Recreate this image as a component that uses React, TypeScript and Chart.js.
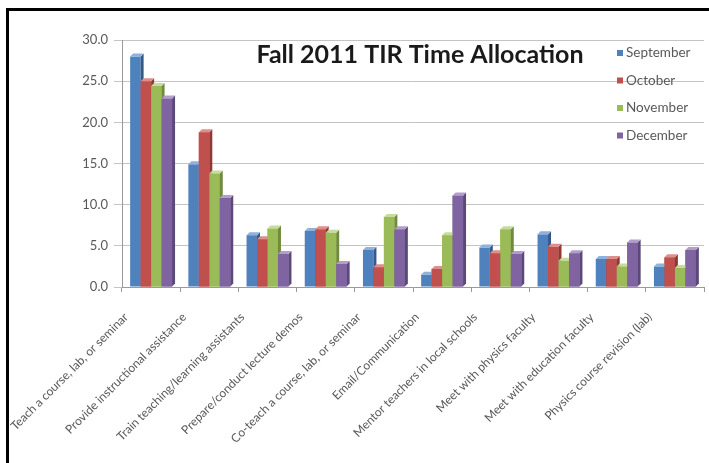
import React, { useEffect, useRef } from "react";
import { Chart, registerables } from "chart.js";

Chart.register(...registerables);

// Activities tracked each month
const categories = [
  "Teach a course, lab, or seminar",
  "Provide instructional assistance",
  "Train teaching/learning assistants",
  "Prepare/conduct lecture demos",
  "Co-teach a course, lab, or seminar",
  "Email/Communication",
  "Mentor teachers in local schools",
  "Meet with physics faculty",
  "Meet with education faculty",
  "Physics course revision (lab)",
];

const months = ["September", "October", "November", "December"];

// Percent of time per activity, by month
const september = [28.0, 14.9, 6.3, 6.8, 4.5, 1.5, 4.8, 6.4, 3.4, 2.5];
const october = [25.0, 18.8, 5.8, 7.0, 2.4, 2.2, 4.1, 4.9, 3.4, 3.6];
const november = [24.4, 13.8, 7.1, 6.6, 8.5, 6.3, 7.0, 3.2, 2.5, 2.3];
const december = [22.9, 10.8, 4.0, 2.8, 7.0, 11.1, 4.0, 4.1, 5.4, 4.5];

const yMin = 0;
const yMax = 30;
const yStep = 5;

const chartTitle = "Fall 2011 TIR Time Allocation";

// front / side / top shades for each series
const frontColors = ["#4F81BD", "#C0504D", "#9BBB59", "#8064A2"];
const sideColors = ["#36598A", "#8E3936", "#718B3E", "#5C4879"];
const topColors = ["#8FB1DC", "#DE8F8C", "#C6DC9E", "#B19ECB"];

const DEPTH = 3;

// Thick black frame along the top and left edges
const frame = {
  id: "frame",
  beforeDraw(chart: any) {
    const ctx = chart.ctx;
    ctx.save();
    ctx.fillStyle = "#000";
    ctx.fillRect(6, 8, chart.width - 6, 3);
    ctx.fillRect(6, 8, 3, chart.height - 8);
    ctx.restore();
  },
};

// Gives each column a shallow right side and top face
const columnDepth = {
  id: "columnDepth",
  afterDatasetsDraw(chart: any) {
    const ctx = chart.ctx;
    const metas = chart.data.datasets.map((_: any, i: number) => chart.getDatasetMeta(i));
    const n = chart.data.labels.length;
    ctx.save();
    for (let i = 0; i < n; i++) {
      for (let d = 0; d < metas.length; d++) {
        const bar: any = metas[d].data[i];
        if (!bar) continue;
        const { x, y, base, width } = bar.getProps(["x", "y", "base", "width"], true);
        const l = x - width / 2;
        const r = x + width / 2;
        ctx.fillStyle = sideColors[d];
        ctx.beginPath();
        ctx.moveTo(r, y);
        ctx.lineTo(r + DEPTH, y - DEPTH);
        ctx.lineTo(r + DEPTH, base - DEPTH);
        ctx.lineTo(r, base);
        ctx.closePath();
        ctx.fill();
        ctx.fillStyle = topColors[d];
        ctx.beginPath();
        ctx.moveTo(l, y);
        ctx.lineTo(l + DEPTH, y - DEPTH);
        ctx.lineTo(r + DEPTH, y - DEPTH);
        ctx.lineTo(r, y);
        ctx.closePath();
        ctx.fill();
        if (d + 1 < metas.length && metas[d + 1].data[i]) {
          metas[d + 1].data[i].draw(ctx, chart.chartArea);
        }
      }
    }
    ctx.restore();
  },
};

// Title and legend sit inside the plot area
const overlay = {
  id: "overlay",
  afterDraw(chart: any) {
    const ctx = chart.ctx;
    const area = chart.chartArea;
    ctx.save();
    ctx.font = "bold 25px Lato";
    ctx.fillStyle = "#1a1a1a";
    ctx.textAlign = "center";
    ctx.textBaseline = "alphabetic";
    ctx.fillText(chartTitle, area.left + 298, 63);

    ctx.font = "13.5px Lato";
    ctx.textAlign = "left";
    ctx.textBaseline = "middle";
    const lx = area.right - 87;
    months.forEach((m, i) => {
      const cy = 53 + i * 27.5;
      ctx.fillStyle = frontColors[i];
      ctx.fillRect(lx, cy - 3, 6, 6);
      ctx.fillStyle = "#595959";
      ctx.fillText(m, lx + 9, cy);
    });
    ctx.restore();
  },
};

export default function App() {
  const canvasRef = useRef<HTMLCanvasElement | null>(null);

  useEffect(() => {
    if (!canvasRef.current) return;
    Chart.defaults.font.family = "Lato";
    const series = [september, october, november, december];
    const chart = new Chart(canvasRef.current, {
      type: "bar",
      data: {
        labels: categories,
        datasets: series.map((values, i) => ({
          label: months[i],
          data: values,
          backgroundColor: frontColors[i],
          borderWidth: 0,
          categoryPercentage: 0.72,
          barPercentage: 1.0,
        })),
      },
      options: {
        animation: false,
        responsive: false,
        layout: { padding: { top: 40, right: 5, left: 0, bottom: 0 } },
        plugins: {
          legend: { display: false },
          title: { display: false },
          tooltip: { enabled: false },
        },
        scales: {
          x: {
            grid: {
              offset: true,
              drawOnChartArea: false,
              drawTicks: true,
              tickLength: 5,
              color: "#9a9a9a",
            },
            border: { color: "#9a9a9a" },
            ticks: {
              autoSkip: false,
              minRotation: 45,
              maxRotation: 45,
              padding: 18,
              labelOffset: -25,
              color: "#595959",
              font: { size: 12, family: "Lato" },
            },
            afterFit: (s: any) => {
              s.height = 176;
            },
          },
          y: {
            min: yMin,
            max: yMax,
            ticks: {
              stepSize: yStep,
              padding: 6,
              color: "#595959",
              font: { size: 13, family: "Lato" },
              callback: (v: any) => Number(v).toFixed(1),
            },
            grid: {
              color: "#c4c4c4",
              tickLength: 8,
            },
            border: { color: "#9a9a9a" },
            afterFit: (s: any) => {
              s.width = 122;
            },
          },
        },
      },
      plugins: [frame, columnDepth, overlay],
    });
    return () => chart.destroy();
  }, []);

  return (
    <div style={{ position: "fixed", left: 0, top: 0, width: 709, height: 463, background: "#fff", overflow: "hidden" }}>
      <canvas ref={canvasRef} width={709} height={463} style={{ position: "absolute", left: 0, top: 0 }} />
    </div>
  );
}
